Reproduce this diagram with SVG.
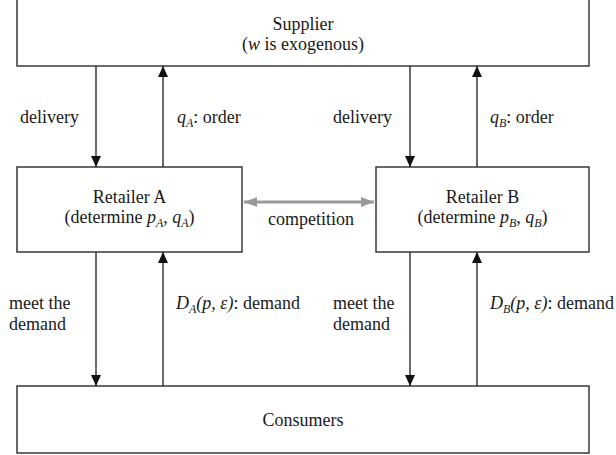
<svg xmlns="http://www.w3.org/2000/svg" width="616" height="455" viewBox="0 0 616 455">
<style>
  .box { fill: #fff; stroke: #2a2a2a; stroke-width: 1.4; }
  .t { font-family: "Liberation Serif", "Times New Roman", serif; font-size: 18px; fill: #1a1a1a; }
  .c { text-anchor: middle; }
  .i { font-style: italic; }
  .sub { font-size: 12px; font-style: italic; }
  .conn { stroke: #2a2a2a; stroke-width: 1.4; fill: none; marker-end: url(#ah); }
  .comp { stroke: #999; stroke-width: 3; fill: none; marker-start: url(#gs); marker-end: url(#ge); }
</style>
<defs>
  <marker id="ah" markerUnits="userSpaceOnUse" markerWidth="12" markerHeight="12" viewBox="0 0 12 12" refX="11" refY="6" orient="auto">
    <path d="M0,1 L11,6 L0,11 Z" fill="#111"/>
  </marker>
  <marker id="ge" markerUnits="userSpaceOnUse" markerWidth="14" markerHeight="12" viewBox="0 0 14 12" refX="13" refY="6" orient="auto">
    <path d="M0,1 L13,6 L0,11 Z" fill="#999"/>
  </marker>
  <marker id="gs" markerUnits="userSpaceOnUse" markerWidth="14" markerHeight="12" viewBox="0 0 14 12" refX="1" refY="6" orient="auto">
    <path d="M14,1 L1,6 L14,11 Z" fill="#999"/>
  </marker>
</defs>

<g id="supplier">
  <rect class="box" x="17" y="-2" width="572" height="68"/>
  <text class="t c" x="303" y="30">Supplier</text>
  <text class="t c" x="303" y="50">(<tspan class="i">w</tspan> is exogenous)</text>
</g>

<g id="retailerA">
  <rect class="box" x="17" y="167" width="225" height="85"/>
  <text class="t c" x="129.5" y="203">Retailer A</text>
  <text class="t c" x="129.5" y="223">(determine <tspan class="i">p</tspan><tspan class="sub" dy="4">A</tspan><tspan dy="-4">, </tspan><tspan class="i">q</tspan><tspan class="sub" dy="4">A</tspan><tspan dy="-4">)</tspan></text>
</g>

<g id="retailerB">
  <rect class="box" x="376" y="167" width="213" height="85"/>
  <text class="t c" x="482.5" y="203">Retailer B</text>
  <text class="t c" x="482.5" y="223">(determine <tspan class="i">p</tspan><tspan class="sub" dy="4">B</tspan><tspan dy="-4">, </tspan><tspan class="i">q</tspan><tspan class="sub" dy="4">B</tspan><tspan dy="-4">)</tspan></text>
</g>

<g id="consumers">
  <rect class="box" x="17" y="386" width="572" height="67"/>
  <text class="t c" x="303" y="426">Consumers</text>
</g>

<g id="connectors">
  <line class="conn" x1="96" y1="66" x2="96" y2="167"/>
  <line class="conn" x1="163" y1="167" x2="163" y2="66"/>
  <line class="conn" x1="410" y1="66" x2="410" y2="167"/>
  <line class="conn" x1="477" y1="167" x2="477" y2="66"/>
  <line class="conn" x1="96" y1="252" x2="96" y2="386"/>
  <line class="conn" x1="163" y1="386" x2="163" y2="252"/>
  <line class="conn" x1="410" y1="252" x2="410" y2="386"/>
  <line class="conn" x1="477" y1="386" x2="477" y2="252"/>
  <line class="comp" x1="244" y1="202" x2="374" y2="202"/>
</g>

<g id="labels">
  <text class="t" x="20" y="123">delivery</text>
  <text class="t" x="177" y="123"><tspan class="i">q</tspan><tspan class="sub" dy="4">A</tspan><tspan dy="-4">: order</tspan></text>
  <text class="t" x="333" y="123">delivery</text>
  <text class="t" x="490" y="123"><tspan class="i">q</tspan><tspan class="sub" dy="4">B</tspan><tspan dy="-4">: order</tspan></text>
  <text class="t c" x="311" y="225">competition</text>
  <text class="t" x="9" y="309">meet the</text>
  <text class="t" x="9" y="330">demand</text>
  <text class="t" x="176" y="309"><tspan class="i">D</tspan><tspan class="sub" dy="4">A</tspan><tspan class="i" dy="-4">(p, ε)</tspan>: demand</text>
  <text class="t" x="333" y="309">meet the</text>
  <text class="t" x="333" y="330">demand</text>
  <text class="t" x="490" y="309"><tspan class="i">D</tspan><tspan class="sub" dy="4">B</tspan><tspan class="i" dy="-4">(p, ε)</tspan>: demand</text>
</g>
</svg>
